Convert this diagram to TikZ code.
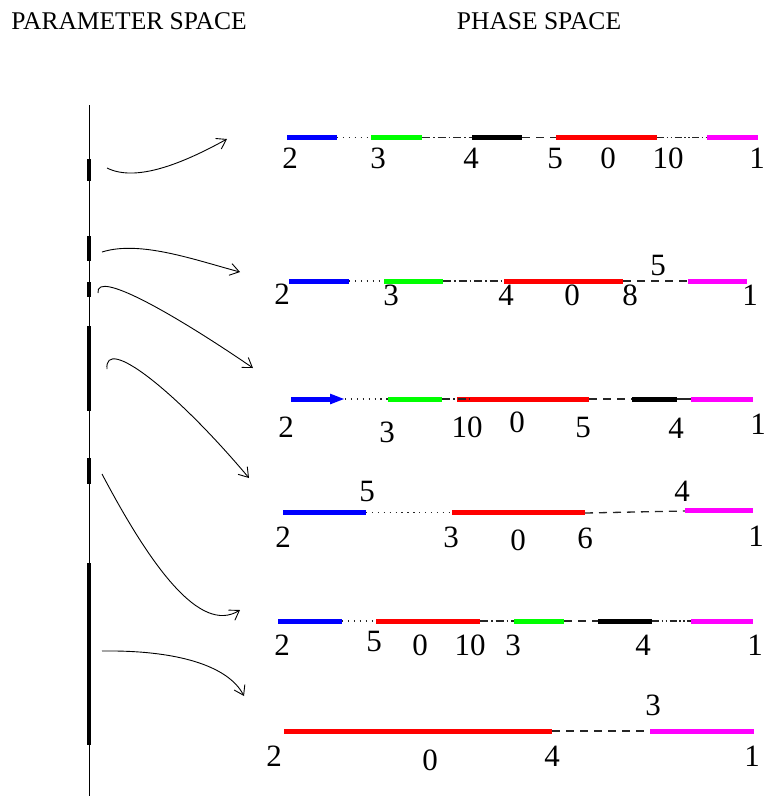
\documentclass[tikz,border=0pt]{standalone}
\usepackage{fontspec}
\setmainfont{Liberation Serif}
\usetikzlibrary{arrows.meta}
\definecolor{segblue}{RGB}{0,0,255}
\definecolor{seggreen}{RGB}{0,255,0}
\definecolor{segred}{RGB}{255,0,0}
\definecolor{segmag}{RGB}{255,0,255}
\tikzset{
  x=1pt, y=-1pt,
  title/.style={font=\fontsize{25.5}{28}\selectfont, inner sep=0pt},
  lab/.style={font=\fontsize{31}{32}\selectfont, inner sep=0pt, text height=21pt, text depth=0pt},
  seg/.style={line width=5pt, line cap=butt},
  gap/.style={line width=1.3pt, black!85},
  dotgap/.style={gap, dash pattern=on 1.3pt off 4.6pt},
  dashgap/.style={gap, dash pattern=on 8pt off 6pt},
  dashdotgap/.style={gap, dash pattern=on 8pt off 3pt on 1.5pt off 3pt},
  dashdotdotgap/.style={gap, dash pattern=on 7pt off 2.5pt on 1.5pt off 2.5pt on 1.5pt off 2.5pt},
  axisseg/.style={line width=4.5pt},
  mapto/.style={line width=0.9pt, -{Straight Barb[length=9pt,width=12pt,line width=0.9pt]}},
}
\begin{document}
\begin{tikzpicture}
\useasboundingbox (0,0) rectangle (765,796);

% headings
\node[title] (tpar) at (129,21) {PARAMETER SPACE};
\node[title] (tph)  at (539,21) {PHASE SPACE};

% parameter axis with its marked intervals
\draw[line width=1pt] (89,105) -- (89,796);
\draw[axisseg] (89,159) -- (89,181);
\draw[axisseg] (89,236) -- (89,261);
\draw[axisseg] (89,282) -- (89,297);
\draw[axisseg] (89,326) -- (89,411);
\draw[axisseg] (89,458) -- (89,484);
\draw[axisseg] (89,563) -- (89,745);

% ---- row 1
\draw[dotgap]       (337,137.7) -- (371,137.7);
\draw[dashdotgap]   (422,137.7) -- (472,137.7);
\draw[dashgap]      (522,137.7) -- (556,137.7);
\draw[dashdotdotgap](657,137.7) -- (707,137.7);
\draw[seg, segblue] (287,137.7) -- (337,137.7);
\draw[seg, seggreen](371,137.7) -- (422,137.7);
\draw[seg, black]   (472,137.7) -- (522,137.7);
\draw[seg, segred]  (556,137.7) -- (657,137.7);
\draw[seg, segmag]  (707,137.7) -- (758,137.7);
\node[lab] (r1a) at (290,158) {2};
\node[lab] (r1b) at (378,158) {3};
\node[lab] (r1c) at (471,158) {4};
\node[lab] (r1d) at (555,158) {5};
\node[lab] (r1e) at (608,158) {0};
\node[lab] (r1f) at (668,158) {10};
\node[lab] (r1g) at (757,158) {1};

% ---- row 2
\draw[dotgap]       (349,281) -- (384,281);
\draw[dashdotgap]   (443,281) -- (504,281);
\draw[dashgap]      (623,281) -- (688,281);
\draw[seg, segblue] (289,281) -- (349,281);
\draw[seg, seggreen](384,281) -- (443,281);
\draw[seg, segred]  (504,281) -- (623,281);
\draw[seg, segmag]  (688,281) -- (747,281);
\node[lab] (r2a) at (282,294) {2};
\node[lab] (r2b) at (391,295) {3};
\node[lab] (r2c) at (506,295) {4};
\node[lab] (r2d) at (572,295) {0};
\node[lab] (r2e) at (630,295) {8};
\node[lab] (r2f) at (658,265) {5};
\node[lab] (r2g) at (750,295) {1};

% ---- row 3
\draw[dotgap]       (345,399) -- (388,399);
\draw[dashgap]      (589,399) -- (632,399);
\draw[gap]          (677,399) -- (691,399);
\draw[seg, segblue, -{Triangle[length=15pt,width=9.5pt]}] (291,399) -- (345,399);
\draw[seg, seggreen](388,399) -- (442,399);
\draw[seg, segred]  (457,399) -- (589,399);
\draw[seg, black]   (632,399) -- (677,399);
\draw[seg, segmag]  (691,399) -- (753,399);
\draw[dashdotgap]   (442,399) -- (472,399);
\node[lab] (r3a) at (286,427) {2};
\node[lab] (r3b) at (387,432) {3};
\node[lab] (r3c) at (467,427) {10};
\node[lab] (r3d) at (517,422) {0};
\node[lab] (r3e) at (583,427) {5};
\node[lab] (r3f) at (676,428) {4};
\node[lab] (r3g) at (758,424) {1};

% ---- row 4
\draw[dotgap]       (366,512.5) -- (452,512.5);
\draw[dashgap]      (585,513) -- (685,511);
\draw[seg, segblue] (283,512.5) -- (366,512.5);
\draw[seg, segred]  (452,512.5) -- (585,512.5);
\draw[seg, segmag]  (685,510.7) -- (753,510.7);
\node[lab] (r4a) at (367,491) {5};
\node[lab] (r4b) at (682,491) {4};
\node[lab] (r4c) at (283,537) {2};
\node[lab] (r4d) at (451,537) {3};
\node[lab] (r4e) at (518,540) {0};
\node[lab] (r4f) at (585,538) {6};
\node[lab] (r4g) at (756,536) {1};

% ---- row 5
\draw[dotgap]       (342,621) -- (376,621);
\draw[dashdotgap]   (480,621) -- (514,621);
\draw[dashgap]      (564,621) -- (598,621);
\draw[dashdotdotgap](652,621) -- (691,621);
\draw[seg, segblue] (278,621) -- (342,621);
\draw[seg, segred]  (376,621) -- (480,621);
\draw[seg, seggreen](514,621) -- (564,621);
\draw[seg, black]   (598,621) -- (652,621);
\draw[seg, segmag]  (691,621) -- (753,621);
\node[lab] (r5a) at (282,645) {2};
\node[lab] (r5b) at (374,641) {5};
\node[lab] (r5c) at (420,645) {0};
\node[lab] (r5d) at (470,645) {10};
\node[lab] (r5e) at (513,645) {3};
\node[lab] (r5f) at (643,645) {4};
\node[lab] (r5g) at (755,645) {1};

% ---- row 6
\draw[dashgap]      (552,731) -- (650,731);
\draw[seg, segred]  (284,731) -- (552,731);
\draw[seg, segmag]  (650,731) -- (754,731);
\node[lab] (r6a) at (653,705) {3};
\node[lab] (r6b) at (274,756) {2};
\node[lab] (r6c) at (430,760) {0};
\node[lab] (r6d) at (552,756) {4};
\node[lab] (r6e) at (752,756) {1};

% maps from parameter intervals to phase portraits
\coordinate (p1) at (107,168);  \coordinate (q1) at (227,139);
\coordinate (p2) at (102,252);  \coordinate (q2) at (240,272);
\coordinate (p3) at (98,293);   \coordinate (q3) at (253,368);
\coordinate (p4) at (107,369);  \coordinate (q4) at (249,478);
\coordinate (p5) at (102,474);  \coordinate (q5) at (240,610);
\coordinate (p6) at (102,651);  \coordinate (q6) at (244,696);

\draw[mapto] (p1) .. controls (135,182) and (180,165) .. (q1);
\draw[mapto] (p2) .. controls (140,240) and (195,260) .. (q2);
\draw[mapto] (p3) .. controls (95,268) and (180,318) .. (q3);
\draw[mapto] (p4) .. controls (104,335) and (175,390) .. (q4);
\draw[mapto] (p5) .. controls (150,565) and (200,635) .. (q5);
\draw[mapto] (p6) .. controls (175,650) and (228,665) .. (q6);
\end{tikzpicture}
\end{document}
